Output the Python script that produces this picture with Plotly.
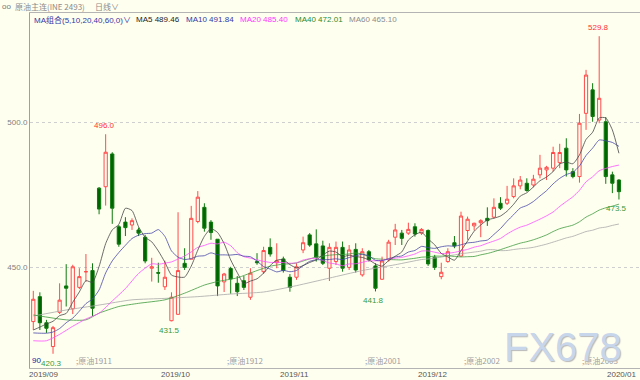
import plotly.graph_objects as go
import pandas as pd

# ---------------- data ----------------
opens = [431.4, 440.0, 431.0, 422.8, 434.6, 443.7, 435.8, 443.2, 448.6, 449.0,
         477.4, 477.9, 489.2, 464.1, 465.7, 464.7, 463.0, 460.5, 449.8, 448.3,
         443.4, 431.7, 433.9, 451.5, 452.9, 465.9, 470.8, 465.7, 459.8, 445.1,
         449.7, 444.6, 445.5, 439.8, 452.1, 448.6, 457.0, 451.7, 453.0, 446.7,
         446.7, 456.1, 461.3, 458.2, 457.5, 449.8, 452.1, 457.0, 450.1, 456.3,
         447.5, 455.5, 450.6, 446.0, 452.7, 460.5, 461.9, 461.9, 464.1, 461.9,
         462.8, 453.6, 446.9, 452.1, 458.6, 454.0, 462.8, 464.4, 465.5, 467.0,
         467.4, 472.2, 472.2, 474.5, 478.2, 479.1, 478.5, 482.0, 483.7, 484.3,
         486.2, 491.2, 483.1, 481.4, 503.2, 511.3, 500.9, 500.3, 482.0, 480.2]
highs = [442.0, 441.5, 432.0, 429.9, 444.6, 451.2, 451.0, 449.8, 454.7, 451.5,
         477.8, 496.0, 489.8, 464.7, 467.4, 467.0, 463.8, 461.3, 453.4, 451.7,
         452.4, 441.5, 469.1, 456.7, 471.3, 476.4, 472.2, 466.4, 459.8, 448.2,
         450.3, 447.1, 447.1, 449.8, 455.0, 457.2, 460.1, 458.4, 453.8, 447.8,
         451.5, 460.7, 461.9, 463.2, 459.3, 458.4, 459.0, 459.0, 457.8, 458.4,
         456.7, 456.1, 451.5, 453.8, 459.6, 465.1, 463.0, 465.5, 465.3, 463.6,
         463.2, 454.4, 451.7, 456.7, 460.9, 469.3, 467.6, 465.5, 466.7, 470.8,
         473.9, 474.3, 478.2, 480.8, 481.6, 480.8, 482.0, 488.9, 485.1, 491.7,
         492.7, 494.6, 484.3, 503.0, 518.2, 513.6, 529.8, 501.9, 483.1, 480.5]
lows = [428.5, 428.5, 427.5, 420.3, 434.0, 436.6, 434.0, 442.6, 445.2, 433.3,
        468.4, 471.4, 465.1, 457.2, 460.9, 463.0, 460.9, 451.5, 445.2, 444.8,
        442.3, 431.5, 433.9, 449.2, 452.9, 465.3, 462.4, 459.6, 440.2, 441.6,
        441.0, 440.2, 442.3, 438.9, 451.0, 447.8, 453.8, 449.8, 448.3, 441.7,
        445.8, 455.0, 457.2, 452.1, 450.9, 445.4, 450.9, 448.6, 449.2, 448.3,
        446.9, 452.1, 441.8, 445.8, 452.1, 457.8, 457.8, 461.3, 460.7, 461.3,
        450.6, 449.2, 446.0, 451.7, 456.7, 453.8, 459.6, 462.8, 460.5, 464.4,
        467.0, 469.9, 471.6, 473.9, 477.0, 476.2, 477.7, 480.8, 480.2, 483.1,
        484.3, 481.4, 480.8, 479.3, 497.5, 500.3, 499.8, 478.9, 475.7, 473.5]
closes = [439.1, 431.0, 429.1, 429.3, 438.8, 442.9, 450.3, 446.9, 448.6, 436.0,
          470.2, 489.8, 470.5, 458.1, 463.8, 466.2, 461.9, 452.3, 450.3, 448.1,
          446.7, 439.8, 449.0, 450.1, 467.0, 474.3, 463.6, 462.1, 443.7, 447.8,
          446.1, 441.7, 443.2, 448.1, 451.7, 455.9, 454.7, 452.4, 449.0, 443.2,
          450.3, 458.6, 457.8, 453.6, 451.5, 457.0, 457.0, 449.8, 456.1, 449.2,
          455.5, 452.7, 442.9, 452.3, 458.8, 463.0, 460.1, 463.2, 461.6, 463.2,
          451.3, 450.1, 448.4, 455.5, 457.5, 467.8, 466.7, 465.3, 466.2, 466.2,
          470.8, 470.5, 473.6, 478.2, 480.2, 476.6, 480.5, 484.3, 484.6, 489.7,
          489.7, 483.7, 481.4, 499.8, 516.4, 502.1, 508.4, 481.4, 479.1, 476.2]

# moving-average values at the left edge (history before the first bar)
ma5_lead_idx = [0, 1, 2, 3]
ma5_lead = [428.5, 429.5, 430.6, 431.5]
ma10_lead_idx = [0, 1, 2, 3, 4, 5, 6, 7, 8]
ma10_lead = [427.5, 427.4, 427.4, 427.8, 429.0, 431.0, 432.6, 435.0, 437.6]
ma20_lead_idx = [0, 2, 4, 6, 8, 10, 12, 14, 16, 18]
ma20_lead = [424.8, 424.8, 427.0, 429.8, 432.3, 434.3, 438.5, 442.8, 448.0, 451.3]
ma40_lead_idx = [0, 5, 8, 10, 13, 16, 20, 23, 26, 28, 31, 34, 36, 38]
ma40_lead = [433.7, 432.0, 432.0, 434.3, 436.6, 437.7, 438.9, 441.2, 444.0, 445.2, 446.5, 449.0, 450.5, 451.2]
ma60_lead_idx = [0, 5, 10, 15, 20, 25, 30, 35, 40, 45, 50, 55]
ma60_lead = [433.3, 435.4, 437.1, 438.9, 439.4, 440.0, 440.9, 441.6, 443.8, 446.4, 449.0, 451.0]

month_labels = ["2019/09", "2019/10", "2019/11", "2019/12", "2020/01"]
month_idx = [0, 19, 37, 58, 80]
contract_labels = [";原油1911", ";原油1912", ";原油2001", ";原油2002", ";原油2003"]
contract_idx = [6, 29, 50, 65, 83]
ytick_vals = [450, 500]
ytick_text = ["450.0", "500.0"]

# ---------------- figure ----------------
BG = "#fffff0"
W, H = 640, 380
L, R, T, B = 30, 0, 13, 12
n = len(closes)
xs = list(range(n))

def px2x(px):
    return (px - L) / (W - L - R)

def py2y(py):
    return (H - B - py) / (H - B - T)

fig = go.Figure()
fig.add_trace(go.Candlestick(
    x=xs, open=opens, high=highs, low=lows, close=closes,
    increasing=dict(line=dict(color="#ff4a4a", width=1), fillcolor=BG),
    decreasing=dict(line=dict(color="#0d7a0d", width=1), fillcolor="#006400"),
    whiskerwidth=0, hoverinfo="skip", showlegend=False))

cs = pd.Series(closes)

def ma_line(period, lead_idx, lead_vals):
    roll = cs.rolling(period).mean()
    xx = list(lead_idx) + list(range(period - 1, n))
    yy = list(lead_vals) + [float(v) for v in roll.iloc[period - 1:]]
    return xx, yy

ma_specs = [
    (60, ma60_lead_idx, ma60_lead, "#a8a8a8"),
    (40, ma40_lead_idx, ma40_lead, "#3c9a3c"),
    (20, ma20_lead_idx, ma20_lead, "#ff4cff"),
    (10, ma10_lead_idx, ma10_lead, "#4646a8"),
    (5, ma5_lead_idx, ma5_lead, "#454545"),
]
for period, li, lv, col in ma_specs:
    xx, yy = ma_line(period, li, lv)
    fig.add_trace(go.Scatter(x=xx, y=yy, mode="lines",
                             line=dict(color=col, width=0.8, shape="spline", smoothing=0.6),
                             hoverinfo="skip", showlegend=False))

FONT = "Liberation Sans, Arial, sans-serif"
CJK = "Noto Sans CJK SC, sans-serif"
ann = []

# high/low value labels
def val_label(i, val, above, color, dx=0):
    ann.append(dict(x=xs[i], y=val, xref="x", yref="y", text=f"{val:.1f}",
                    showarrow=False, font=dict(family=FONT, size=8, color=color),
                    yanchor="bottom" if above else "top",
                    yshift=2 if above else -3, xshift=dx))

val_label(11, highs[11], True, "#ff3030", -1)
val_label(86, highs[86], True, "#ff3030", -1)
val_label(21, lows[21], False, "#3a9a3a", -2)
val_label(52, lows[52], False, "#3a9a3a", -2)
val_label(89, lows[89], False, "#3a9a3a", -2)
val_label(3, lows[3], False, "#3a9a3a", -2)
ann.append(dict(x=px2x(30), y=py2y(360), xref="paper", yref="paper", text="90",
                showarrow=False, xanchor="left", yanchor="middle",
                font=dict(family=FONT, size=8, color="#2020a0")))

# month labels under the axis
for lab, i in zip(month_labels, month_idx):
    common = dict(y=0, yref="paper", text=lab, showarrow=False, yanchor="middle", yshift=-6,
                  font=dict(family=FONT, size=8, color="#555555"))
    if i == month_idx[-1]:
        ann.append(dict(x=1, xref="paper", xanchor="right", xshift=-2, **common))
    elif i == 0:
        ann.append(dict(x=0, xref="paper", xanchor="left", xshift=-3, **common))
    else:
        ann.append(dict(x=i, xref="x", xanchor="left", xshift=1, **common))

# contract roll labels
for lab, i in zip(contract_labels, contract_idx):
    ann.append(dict(x=i, y=py2y(360), xref="x", yref="paper", text=lab, showarrow=False,
                    xanchor="left", yanchor="middle", xshift=1,
                    font=dict(family=CJK, size=8, color="#a0a0a0")))

# watermark
ann.append(dict(x=px2x(563), y=py2y(347), xref="paper", yref="paper", text="FX678",
                showarrow=False, xanchor="center", yanchor="middle",
                font=dict(family=FONT, size=40, color="#c8d6ec", shadow="1px 1px 1px #b8b8b8")))

# header bar
ann.append(dict(x=px2x(0), y=py2y(6.5), xref="paper", yref="paper", text="oo", showarrow=False,
                xanchor="left", yanchor="middle", font=dict(family=FONT, size=8, color="#777777")))
ann.append(dict(x=px2x(13), y=py2y(6.5), xref="paper", yref="paper", text="原油主连(INE 2493)",
                showarrow=False, xanchor="left", yanchor="middle",
                font=dict(family=CJK, size=8, color="#8a8a8a")))
ann.append(dict(x=px2x(93), y=py2y(6.5), xref="paper", yref="paper", text="日线∨",
                showarrow=False, xanchor="left", yanchor="middle",
                font=dict(family=CJK, size=8, color="#8a8a8a")))

# MA legend row
legend_items = [
    ("MA组合(5,10,20,40,60,0)∨", 32, "#3535a5"),
    ("MA5 489.46", 134, "#222222"),
    ("MA10 491.84", 184, "#3535a5"),
    ("MA20 485.40", 238, "#ff33ff"),
    ("MA40 472.01", 293, "#2a8a2a"),
    ("MA60 465.10", 347, "#8c8c8c"),
]
for txt, px, col in legend_items:
    ann.append(dict(x=px2x(px), y=py2y(20), xref="paper", yref="paper", text=txt,
                    showarrow=False, xanchor="left", yanchor="middle",
                    font=dict(family=FONT + ", " + CJK, size=8, color=col)))

fig.update_layout(
    width=W, height=H, margin=dict(l=L, r=R, t=T, b=B, pad=0),
    paper_bgcolor=BG, plot_bgcolor=BG,
    annotations=ann, showlegend=False,
    xaxis=dict(range=[-0.5, 92.2], showticklabels=False, showgrid=False, zeroline=False,
               showline=True, linecolor="#b4b4b4", linewidth=1, mirror=True, ticks="",
               rangeslider=dict(visible=False), fixedrange=True),
    yaxis=dict(range=[415.4, 537.8], tickvals=ytick_vals, ticktext=ytick_text,
               showgrid=True, gridcolor="#cfcfcf", griddash="dot", gridwidth=1,
               zeroline=False, showline=True, linecolor="#a0a0a0", linewidth=1, ticks="",
               tickfont=dict(family=FONT, size=8, color="#808080"), fixedrange=True),
)

fig.write_html("out.html", config={"displayModeBar": False},
               post_script="document.body.style.margin='0';document.body.style.padding='0';"
                           "document.body.style.overflow='hidden';"
                           "document.body.style.background='" + BG + "';")
